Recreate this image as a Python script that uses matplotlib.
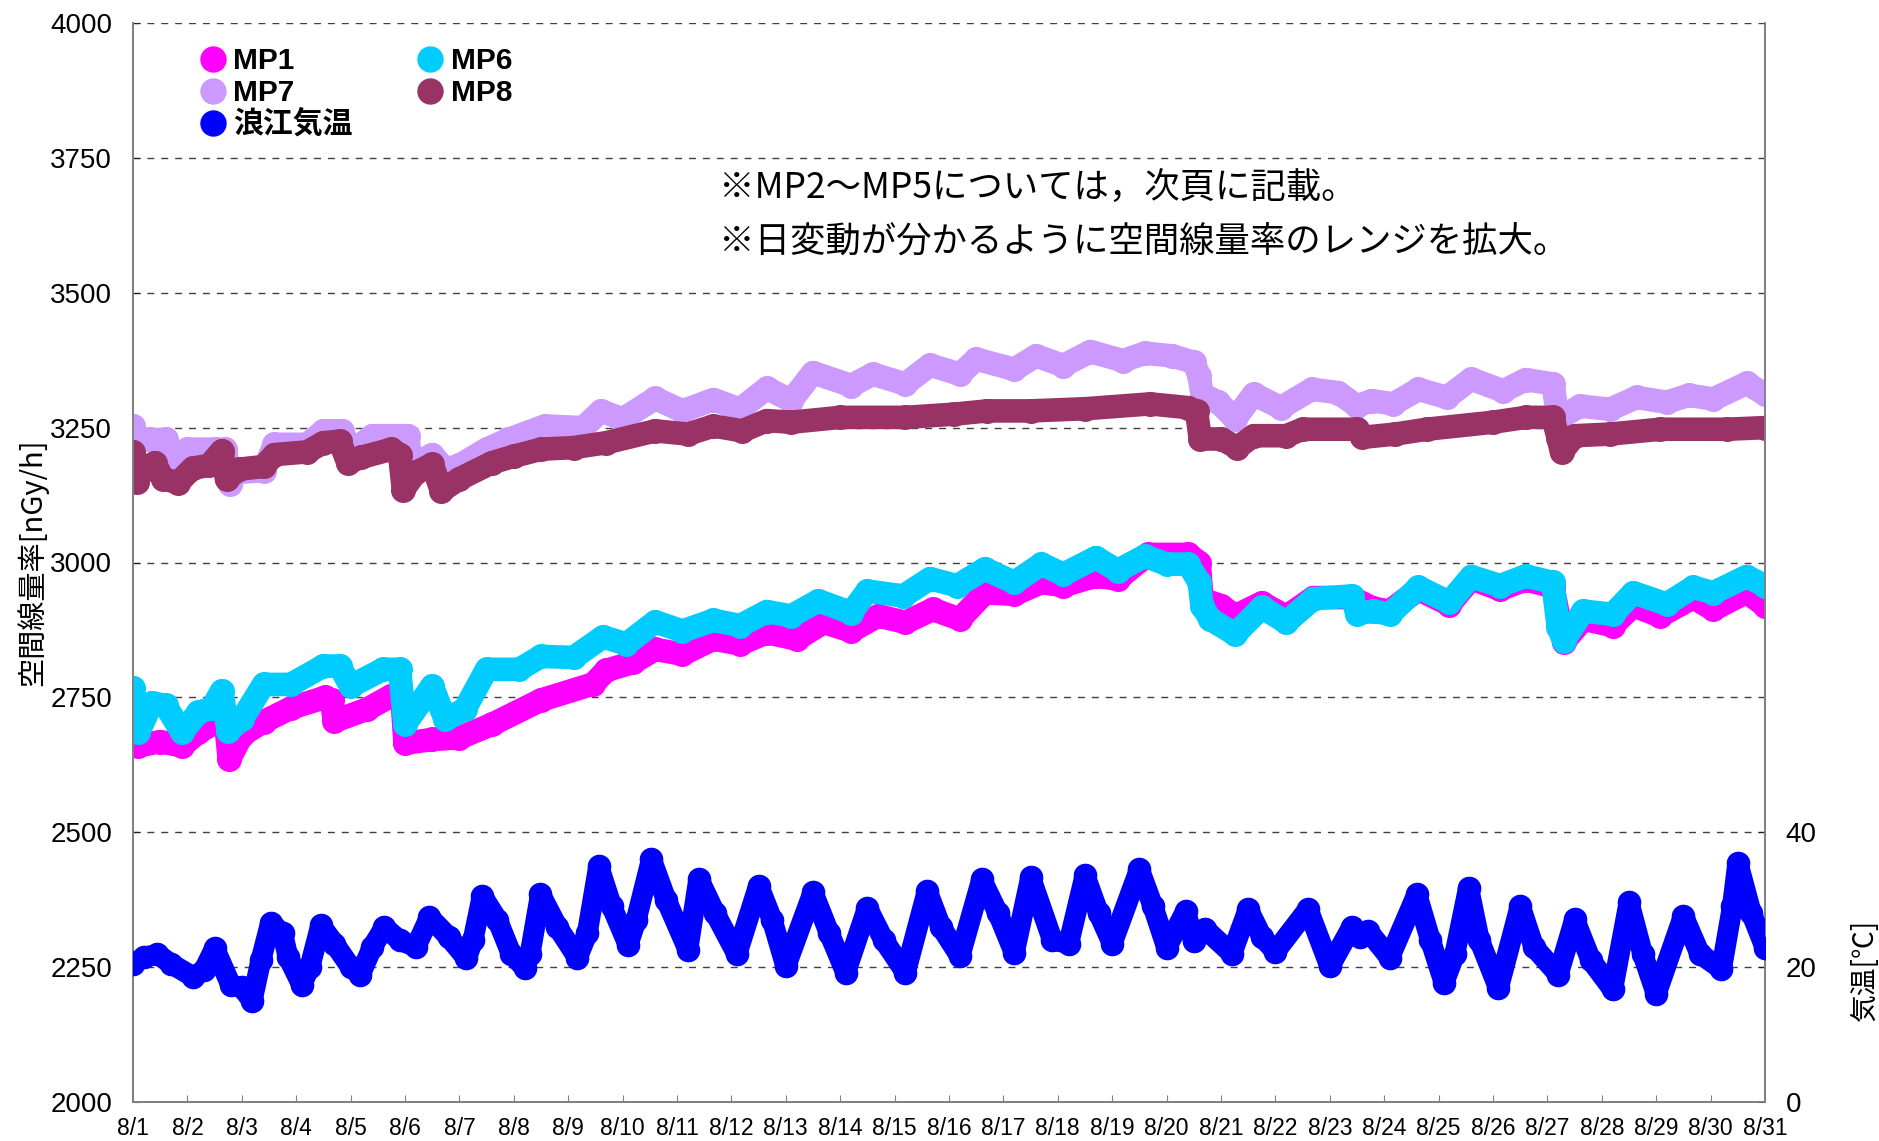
import matplotlib
matplotlib.use("Agg")
import matplotlib.pyplot as plt
from matplotlib.lines import Line2D
from matplotlib import font_manager as fm
import numpy as np

# ---------------- data (day offset from 8/1 00:00, value) ----------------
day_labels = [f"8/{d}" for d in range(1, 32)]

mp8_t = [0.0, 0.08, 0.2, 0.4, 0.55, 0.83, 1.1, 1.4, 1.63, 1.72, 1.95, 2.4, 2.6, 3.2, 3.5, 3.8, 3.95,
         4.2, 4.75, 4.9, 4.97, 5.2, 5.5, 5.67, 6.0, 6.6, 7.0, 7.5, 8.1, 8.7, 9.6, 10.2, 10.67, 11.2,
         11.65, 12.1, 13.0, 14.2, 15.1, 15.7, 16.5, 17.5, 18.7, 19.4, 19.55, 19.62, 20.0, 20.3, 20.6,
         21.2, 21.5, 22.5, 22.6, 23.2, 23.78, 25.0, 25.6, 26.1, 26.2, 26.26, 26.5, 27.15, 28.07, 29.3, 30.0]
mp8_v = [3205, 3150, 3175, 3185, 3155, 3148, 3175, 3180, 3207, 3154, 3173, 3178, 3200, 3205, 3222, 3225, 3185,
         3195, 3210, 3200, 3135, 3167, 3182, 3133, 3155, 3185, 3197, 3210, 3213, 3222, 3244, 3238, 3253, 3244,
         3263, 3260, 3269, 3269, 3275, 3281, 3281, 3285, 3294, 3287, 3280, 3229, 3229, 3213, 3235,
         3235, 3247, 3247, 3232, 3238, 3247, 3260, 3269, 3269, 3230, 3204, 3235, 3238, 3247, 3247, 3250]

mp7_t = [0.0, 0.1, 0.3, 0.6, 0.75, 1.0, 1.5, 1.7, 1.78, 1.9, 2.4, 2.6, 3.2, 3.5, 3.85, 4.0, 4.4, 5.05,
         5.12, 5.5, 5.74, 6.0, 6.5, 6.9, 7.57, 8.28, 8.6, 9.0, 9.6, 10.1, 10.67, 11.16, 11.65, 12.1, 12.5,
         13.2, 13.6, 14.2, 14.65, 15.2, 15.5, 16.2, 16.6, 17.1, 17.6, 18.2, 18.6, 19.1, 19.5, 19.6, 19.65,
         19.95, 20.26, 20.6, 21.1, 21.67, 22.15, 22.5, 22.77, 23.17, 23.63, 24.15, 24.6, 25.19, 25.6, 26.1,
         26.2, 26.6, 27.15, 27.64, 28.19, 28.6, 29.05, 29.66, 30.0]
mp7_v = [3253, 3225, 3228, 3228, 3191, 3210, 3210, 3210, 3145, 3167, 3170, 3219, 3219, 3244, 3244, 3204, 3235, 3235,
         3179, 3200, 3173, 3180, 3210, 3228, 3253, 3250, 3281, 3266, 3304, 3281, 3302, 3284, 3323, 3300, 3352,
         3328, 3349, 3331, 3366, 3349, 3377, 3358, 3383, 3365, 3391, 3374, 3388, 3383, 3371, 3346, 3312,
         3297, 3266, 3312, 3287, 3321, 3315, 3290, 3300, 3294, 3321, 3306, 3340, 3318, 3339, 3331,
         3266, 3290, 3284, 3306, 3297, 3310, 3303, 3332, 3312]

mp6_t = [0.0, 0.1, 0.35, 0.6, 0.9, 1.2, 1.45, 1.63, 1.75, 2.0, 2.4, 2.9, 3.5, 3.8, 4.0, 4.6, 4.9, 5.0,
         5.5, 5.74, 6.1, 6.5, 7.1, 7.5, 8.1, 8.64, 9.07, 9.6, 10.1, 10.67, 11.16, 11.65, 12.1, 12.6, 13.2,
         13.5, 14.16, 14.65, 15.15, 15.66, 16.2, 16.7, 17.1, 17.7, 18.1, 18.6, 19.0, 19.4, 19.6, 19.65,
         19.8, 20.26, 20.75, 21.2, 21.7, 22.4, 22.5, 22.8, 23.1, 23.63, 24.2, 24.6, 25.13, 25.6, 26.1,
         26.2, 26.3, 26.66, 27.2, 27.58, 28.19, 28.68, 29.05, 29.66, 30.0]
mp6_v = [2768, 2685, 2740, 2735, 2685, 2722, 2730, 2762, 2688, 2709, 2774, 2774, 2808, 2808, 2771, 2802, 2802, 2700,
         2771, 2709, 2728, 2802, 2802, 2826, 2824, 2862, 2849, 2890, 2873, 2893, 2883, 2909, 2901, 2929, 2907,
         2947, 2938, 2970, 2957, 2988, 2963, 2997, 2978, 3009, 2985, 3012, 2997, 2997, 2963, 2920,
         2895, 2867, 2917, 2889, 2933, 2938, 2905, 2910, 2904, 2954, 2926, 2974, 2957, 2975, 2963,
         2880, 2855, 2910, 2904, 2944, 2923, 2954, 2944, 2974, 2957]

mp1_t = [0.0, 0.1, 0.5, 0.9, 1.2, 1.5, 1.7, 1.77, 2.0, 2.4, 2.9, 3.53, 3.65, 3.7, 4.3, 4.75, 4.95, 5.0,
         5.5, 6.0, 6.6, 7.5, 8.46, 8.7, 9.2, 9.6, 10.1, 10.67, 11.16, 11.65, 12.2, 12.7, 13.2, 13.7, 14.2,
         14.7, 15.2, 15.66, 16.2, 16.7, 17.1, 17.7, 18.1, 18.66, 19.4, 19.6, 19.65, 20.0, 20.26, 20.75,
         21.2, 21.7, 22.4, 22.8, 23.1, 23.63, 24.2, 24.6, 25.13, 25.6, 26.1, 26.3, 26.66, 27.2, 27.58,
         28.07, 28.68, 29.05, 29.66, 30.0]
mp1_v = [2720, 2660, 2668, 2660, 2685, 2703, 2705, 2635, 2680, 2705, 2730, 2750, 2745, 2706, 2728, 2753, 2740, 2665,
         2672, 2675, 2700, 2745, 2775, 2800, 2815, 2839, 2830, 2858, 2849, 2870, 2858, 2889, 2873, 2901, 2889,
         2913, 2895, 2944, 2941, 2963, 2957, 2975, 2969, 3015, 3015, 3000, 2932, 2920, 2901, 2925,
         2900, 2935, 2935, 2915, 2910, 2950, 2922, 2970, 2950, 2968, 2955, 2852, 2895, 2883, 2920,
         2901, 2935, 2913, 2945, 2920]

temp_t = [0.0, 0.2, 0.45, 0.7, 1.1, 1.3, 1.5, 1.8, 2.0, 2.19, 2.35, 2.53, 2.75, 2.85, 3.1, 3.25, 3.45,
          3.7, 4.0, 4.18, 4.4, 4.62, 4.9, 5.2, 5.45, 5.8, 6.13, 6.25, 6.42, 6.7, 6.95, 7.2, 7.3, 7.49,
          7.8, 8.17, 8.35, 8.56, 8.8, 9.1, 9.25, 9.53, 9.8, 10.2, 10.4, 10.7, 11.1, 11.5, 11.75, 12.0,
          12.5, 12.8, 13.1, 13.5, 13.8, 14.2, 14.6, 14.85, 15.2, 15.6, 15.9, 16.2, 16.5, 16.9, 17.2,
          17.5, 17.75, 18.0, 18.5, 18.75, 19.0, 19.35, 19.5, 19.7, 20.2, 20.5, 20.75, 21.0, 21.6, 22.0,
          22.4, 22.55, 22.7, 23.1, 23.6, 23.85, 24.1, 24.3, 24.55, 24.75, 25.1, 25.5, 25.75, 26.2, 26.5,
          26.8, 27.2, 27.5, 27.75, 28.0, 28.5, 28.8, 29.2, 29.4, 29.5, 29.75, 30.0]
temp_v = [20.5, 21.5, 21.9, 20.5, 18.6, 19.5, 22.8, 17.3, 17.0, 15.0, 21.0, 26.6, 25.0, 21.5, 17.4, 20.0, 26.2,
          23.5, 20.0, 18.9, 23.0, 25.9, 24.0, 23.0, 27.4, 24.5, 21.3, 24.0, 30.6, 27.0, 22.0, 19.9, 22.0, 30.8,
          26.0, 21.4, 25.0, 35.0, 29.0, 23.3, 27.0, 36.0, 30.0, 22.6, 33.1, 28.0, 21.9, 32.1, 27.0, 20.1,
          31.1, 25.0, 19.2, 28.8, 24.0, 19.2, 31.3, 26.0, 21.6, 33.0, 28.0, 22.1, 33.3, 24.0, 23.5,
          33.6, 28.0, 23.5, 34.5, 29.0, 22.9, 28.3, 23.8, 25.7, 22.0, 28.6, 24.5, 22.3, 28.6, 20.1,
          25.9, 24.5, 25.4, 21.4, 30.8, 24.0, 17.7, 22.0, 31.8, 24.0, 16.9, 29.1, 23.0, 18.9, 27.1,
          21.0, 16.7, 29.6, 22.0, 16.0, 27.6, 22.0, 19.7, 29.0, 35.5, 28.0, 22.9]

series_colors = {"MP1": "#FF00FF", "MP6": "#00CCFF", "MP7": "#CC99FF", "MP8": "#993366", "浪江気温": "#0000FF"}

# ---------------- fonts ----------------
names = {f.name for f in fm.fontManager.ttflist}
jp = "Noto Sans CJK JP"
latin = "Liberation Sans" if "Liberation Sans" in names else "DejaVu Sans"
plt.rcParams["font.family"] = [latin, jp, "DejaVu Sans"]

# ---------------- figure ----------------
fig = plt.figure(figsize=(18.79, 11.41), dpi=100)
ax = fig.add_axes([133 / 1879, 1 - 1102 / 1141, (1765 - 133) / 1879, (1102 - 23) / 1141])
ax2 = ax.twinx()

LW = 17
MS = 17

def draw(a, t, v, name, z, lw=LW, ms=MS):
    a.plot(t, v, color=series_colors[name], lw=lw, marker="o", ms=ms, mec=series_colors[name],
           solid_capstyle="round", solid_joinstyle="round", zorder=z)

draw(ax, mp7_t, mp7_v, "MP7", 3)
draw(ax, mp8_t, mp8_v, "MP8", 4)
draw(ax, mp1_t, mp1_v, "MP1", 5)
draw(ax, mp6_t, mp6_v, "MP6", 6)
draw(ax2, temp_t, temp_v, "浪江気温", 3, lw=15, ms=16)

ax.set_xlim(0, 30)
ax.set_ylim(2000, 4000)
ax2.set_ylim(0, 160)

ax.set_xticks(np.arange(31))
ax.set_xticklabels(day_labels)
ax.set_yticks(np.arange(2000, 4001, 250))
ax2.set_yticks([0, 20, 40])

ax.yaxis.grid(True, color="#404040", lw=1.0, linestyle=(0, (5, 5)))
ax.set_axisbelow(True)

gray = "#808080"
for a in (ax, ax2):
    for s in a.spines.values():
        s.set_color(gray)
        s.set_linewidth(1.3)
    a.spines["top"].set_visible(False)

ax.tick_params(axis="x", direction="in", length=5, color=gray, labelsize=16.5, pad=11)
ax.tick_params(axis="y", direction="in", length=5, color="#202020", labelsize=20, pad=15)
ax2.tick_params(axis="y", direction="in", length=5, color="#202020", labelsize=20, pad=15)

ax.set_ylabel("空間線量率[nGy/h]", fontsize=21, family=[jp, latin])
ax.yaxis.set_label_coords(-0.052, 0.5)
ax2.set_ylabel("気温[℃]", fontsize=20, family=[jp, latin], rotation=90)
ax2.yaxis.set_label_coords(1.052, 0.122)

ax2.text(0.359, 0.846, "※MP2～MP5については，次頁に記載。", transform=ax.transAxes,
         fontsize=25.5, family=[jp, latin], va="center", ha="left")
ax2.text(0.359, 0.796, "※日変動が分かるように空間線量率のレンジを拡大。", transform=ax.transAxes,
         fontsize=25.5, family=[jp, latin], va="center", ha="left")

order = ["MP1", "MP7", "浪江気温", "MP6", "MP8"]
handles = [Line2D([], [], ls="none", marker="o", ms=18, color=series_colors[n]) for n in order]
leg = ax2.legend(handles, order, loc="upper left", bbox_to_anchor=(0.0414, 0.9774), ncol=2,
                 frameon=False, handlelength=0.8, handletextpad=0.3, columnspacing=2.18,
                 labelspacing=0.12, borderpad=0, borderaxespad=0,
                 prop={"family": [latin, jp], "weight": "bold", "size": 21.5})

fig.savefig("out.png", dpi=100)
